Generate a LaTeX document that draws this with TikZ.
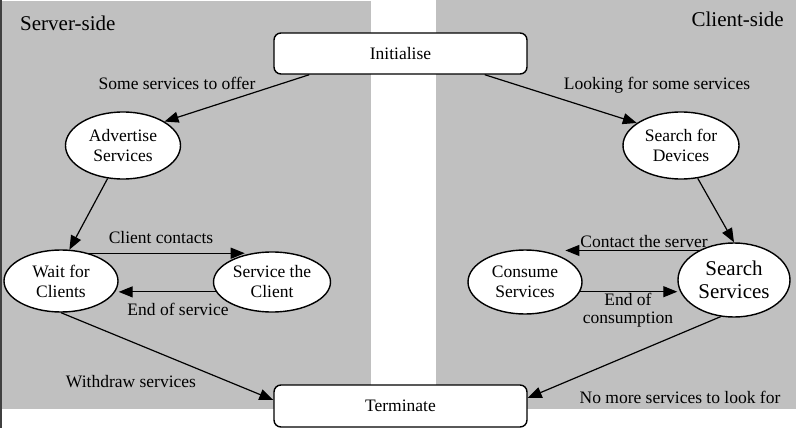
\documentclass[tikz,border=0pt]{standalone}
\usepackage{fontspec}
\setmainfont{Liberation Serif}
\usetikzlibrary{calc,arrows.meta,shapes.geometric}
\definecolor{panelgray}{RGB}{192,192,192}

\begin{document}
\begin{tikzpicture}[x=1pt, y=-1pt,
    state/.style={draw, ellipse, fill=white, line width=1.4pt, inner sep=0pt, align=center, font=\fontsize{17.5}{20}\selectfont},
    endbox/.style={draw, fill=white, rounded corners=7pt, line width=1.4pt, minimum width=253pt, minimum height=41pt, font=\fontsize{17.5}{20}\selectfont},
    lbl/.style={inner sep=0pt, anchor=base, align=center, font=\fontsize{17.5}{18}\selectfont},
    arr/.style={-{Triangle[length=14pt,width=11pt]}, line width=1.2pt}]
    \useasboundingbox (0,0) rectangle (796,428);
    \fill[panelgray] (2,1) rectangle (371,409);
    \fill[panelgray] (436,0) rectangle (796,409);
    \fill[black!75] (0,0) rectangle (2,428);

    \node (server) at (20,31) [lbl, anchor=base west, font=\fontsize{21}{24}\selectfont] {Server-side};
    \node (client) at (784,27) [lbl, anchor=base east, font=\fontsize{21}{24}\selectfont] {Client-side};

    \node (init) at (400.5,53.5) [endbox] {Initialise};
    \node (term) at (400.5,406) [endbox, minimum height=42pt] {Terminate};

    \node (adv) at (123,145.5) [state, minimum width=115pt, minimum height=67pt] {Advertise\\Services};
    \node (wait) at (61,281) [state, minimum width=114pt, minimum height=62pt] {Wait for\\Clients};
    \node (serv) at (272,282) [state, minimum width=117pt, minimum height=60pt] {Service the\\Client};

    \node (sfd) at (681,145.5) [state, minimum width=116pt, minimum height=67pt] {Search for\\Devices};
    \node (cons) at (525,282) [state, minimum width=114pt, minimum height=64pt] {Consume\\Services};
    \node (ss) at (734,280) [state, minimum width=112pt, minimum height=74pt, font=\fontsize{21}{23}\selectfont] {Search\\Services};

    % server side
    \draw[arr] ([xshift=36pt]init.south west) -- (adv.30);
    \draw[arr] (adv.245) -- (wait.75);
    \draw[arr] (wait.45) -- (wait.45 -| serv.135);
    \draw[arr] (serv.190) -- (serv.190 -| wait.east);
    \draw[arr] (wait.south) -- ([yshift=6pt]term.west);

    % client side
    \draw[arr] ([xshift=-43pt]init.south east) -- (sfd.153);
    \draw[arr] (sfd.297) -- (ss.north);
    \draw[arr] (ss.140) -- (ss.140 -| cons.30);
    \draw[arr] (cons.350) -- (cons.350 -| ss.west);
    \draw[arr] (ss.250) -- ([yshift=8pt]term.east);

    \node (offer) at (177,90) [lbl] {Some services to offer};
    \node (look) at (657,90) [lbl] {Looking for some services};
    \node (contacts) at (161,243) [lbl] {Client contacts};
    \node (endserv) at (178,315) [lbl] {End of service};
    \node (withdraw) at (131,387) [lbl] {Withdraw services};
    \node (contact) at (644,247) [lbl] {Contact the server};
    \node (endcons) at (628,323) [lbl] {End of\\consumption};
    \node (nomore) at (680,403) [lbl] {No more services to look for};
\end{tikzpicture}
\end{document}
